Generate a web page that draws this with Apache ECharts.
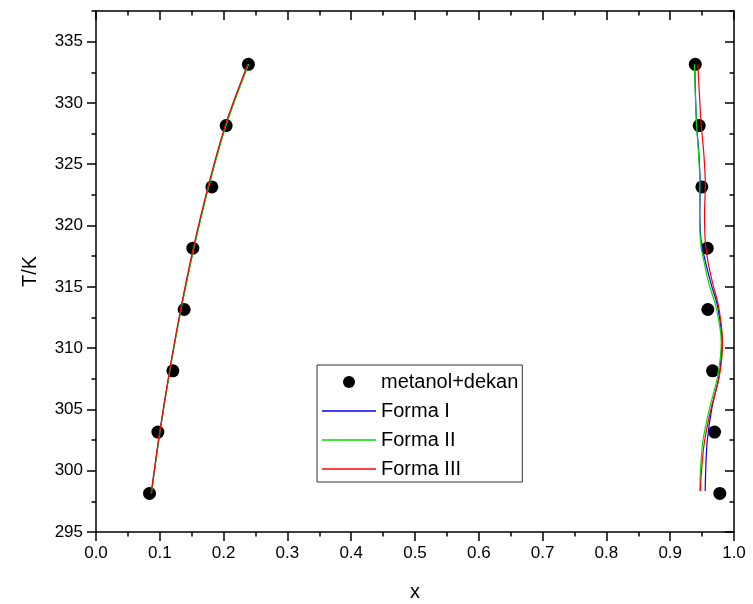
<!DOCTYPE html>
<html>
<head>
<meta charset="utf-8">
<script src="https://cdn.jsdelivr.net/npm/echarts@6/dist/echarts.min.js"></script>
<style>
html,body{margin:0;padding:0;background:#fff;}
#chart{width:753px;height:604px;}
</style>
</head>
<body>
<div id="chart"></div>
<script>
// ---- data ----
var pointT = [298.15, 303.15, 308.15, 313.15, 318.15, 323.15, 328.15, 333.15];
var pointXLeft = [0.0839, 0.0970, 0.1205, 0.1382, 0.1518, 0.1816, 0.2040, 0.2389];
var pointXRight = [0.9778, 0.9695, 0.9664, 0.9590, 0.9580, 0.9496, 0.9455, 0.9393];

var leftT = [298.15, 303.15, 308.15, 313.15, 318.15, 323.15, 328.15, 333.15];
var formaILeft = [0.0867, 0.1001, 0.1156, 0.1331, 0.1532, 0.1763, 0.2034, 0.2388];
var formaIILeft = [0.0868, 0.1002, 0.1158, 0.1334, 0.1535, 0.1766, 0.2038, 0.2392];
var formaIIILeft = [0.0864, 0.0998, 0.1152, 0.1326, 0.1525, 0.1755, 0.2025, 0.2378];

var rightT = [298.35, 299.65, 302.4, 305.1, 307.8, 310.5, 313.3, 315.2, 317.1, 318.7, 320.9, 323.3, 325.8, 328.2, 330.5, 333.15];
var formaIRight = [0.9549, 0.9554, 0.9580, 0.9653, 0.9768, 0.9810, 0.9747, 0.9643, 0.9550, 0.9486, 0.9465, 0.9470, 0.9450, 0.9415, 0.9397, 0.9385];
var formaIIRight = [0.9465, 0.9471, 0.9512, 0.9617, 0.9747, 0.9800, 0.9721, 0.9610, 0.9528, 0.9476, 0.9460, 0.9465, 0.9445, 0.9413, 0.9395, 0.9380];
var formaIIIRight = [0.9476, 0.9486, 0.9538, 0.9643, 0.9773, 0.9820, 0.9762, 0.9670, 0.9590, 0.9550, 0.9538, 0.9550, 0.9528, 0.9486, 0.9460, 0.9434];

var yMajorTicks = [295, 300, 305, 310, 315, 320, 325, 330, 335];
var yMinorTicks = [297.5, 302.5, 307.5, 312.5, 317.5, 322.5, 327.5, 332.5, 337.5];

var seriesNames = ['metanol+dekan', 'Forma I', 'Forma II', 'Forma III'];
var lineColors = ['#0000ff', '#00dd00', '#ff0000'];

function pairs(xs, ts) {
  return xs.map(function (x, i) { return [x, ts[i]]; });
}

var FONT = 'Liberation Sans, Arial, sans-serif';
var chart = echarts.init(document.getElementById('chart'), null, {renderer: 'canvas'});

function xAxisDef(pos) {
  var bottom = pos === 'bottom';
  return {
    type: 'value', position: pos, min: 0, max: 1, interval: 0.1,
    axisLine: {show: true, onZero: false, lineStyle: {color: '#000', width: 1.5}},
    axisTick: {show: true, inside: !bottom, length: 9, lineStyle: {color: '#000', width: 1.5}},
    minorTick: {show: true, splitNumber: 2, length: 4.5, lineStyle: {color: '#000', width: 1.5}},
    splitLine: {show: false},
    axisLabel: {show: bottom, fontFamily: FONT, fontSize: 17, color: '#000', margin: 13,
      formatter: function (v) { return v.toFixed(1); }},
    name: bottom ? 'x' : '', nameLocation: 'middle', nameGap: 50,
    nameTextStyle: {fontFamily: FONT, fontSize: 20, color: '#000'}
  };
}
function yAxisDef(pos, major) {
  var left = pos === 'left';
  return {
    type: 'value', position: pos, min: 295, max: 337.5, interval: 2.5,
    axisLine: {show: major, onZero: false, lineStyle: {color: '#000', width: 1.5}},
    axisTick: {show: true, inside: !left, length: major ? 9 : 4.5,
      customValues: major ? yMajorTicks : yMinorTicks,
      lineStyle: {color: '#000', width: 1.5}},
    splitLine: {show: false},
    axisLabel: {show: left && major, fontFamily: FONT, fontSize: 17, color: '#000', margin: 13,
      customValues: yMajorTicks},
    name: (left && major) ? 'T/K' : '', nameLocation: 'middle', nameGap: 56, nameRotate: 90,
    nameTextStyle: {fontFamily: FONT, fontSize: 20, color: '#000'}
  };
}

var series = [];
[pointXLeft, pointXRight].forEach(function (xs) {
  series.push({
    name: seriesNames[0], type: 'scatter', xAxisIndex: 0, yAxisIndex: 0, z: 2,
    symbol: 'circle', symbolSize: 13, itemStyle: {color: '#000', opacity: 1},
    data: pairs(xs, pointT)
  });
});
var lefts = [formaILeft, formaIILeft, formaIIILeft];
var rights = [formaIRight, formaIIRight, formaIIIRight];
for (var k = 0; k < 3; k++) {
  [[lefts[k], leftT], [rights[k], rightT]].forEach(function (br) {
    series.push({
      name: seriesNames[k + 1], type: 'line', xAxisIndex: 0, yAxisIndex: 0, z: 3,
      showSymbol: false, symbol: 'none', smooth: 0.35,
      lineStyle: {color: lineColors[k], width: 1.2},
      itemStyle: {color: lineColors[k]},
      data: pairs(br[0], br[1])
    });
  });
}

var lineIcon = 'path://M0,0H54V1.3H0Z';
chart.setOption({
  animation: false,
  backgroundColor: '#fff',
  grid: {left: 96, right: 19, top: 11, bottom: 72, containLabel: false, outerBoundsMode: 'none'},
  xAxis: [xAxisDef('bottom'), xAxisDef('top')],
  yAxis: [yAxisDef('left', true), yAxisDef('left', false), yAxisDef('right', true), yAxisDef('right', false)],
  legend: {
    data: [
      {name: seriesNames[0], icon: 'circle', itemStyle: {color: '#000', opacity: 1}},
      {name: seriesNames[1], icon: lineIcon},
      {name: seriesNames[2], icon: lineIcon},
      {name: seriesNames[3], icon: lineIcon}
    ],
    orient: 'vertical', left: 317, top: 365,
    itemWidth: 54, itemHeight: 12, itemGap: 9,
    padding: [7, 4, 3, 5],
    borderColor: '#333', borderWidth: 1, backgroundColor: '#fff',
    textStyle: {fontFamily: FONT, fontSize: 20, color: '#000'},
    selectedMode: false
  },
  series: series
});
</script>
</body>
</html>
